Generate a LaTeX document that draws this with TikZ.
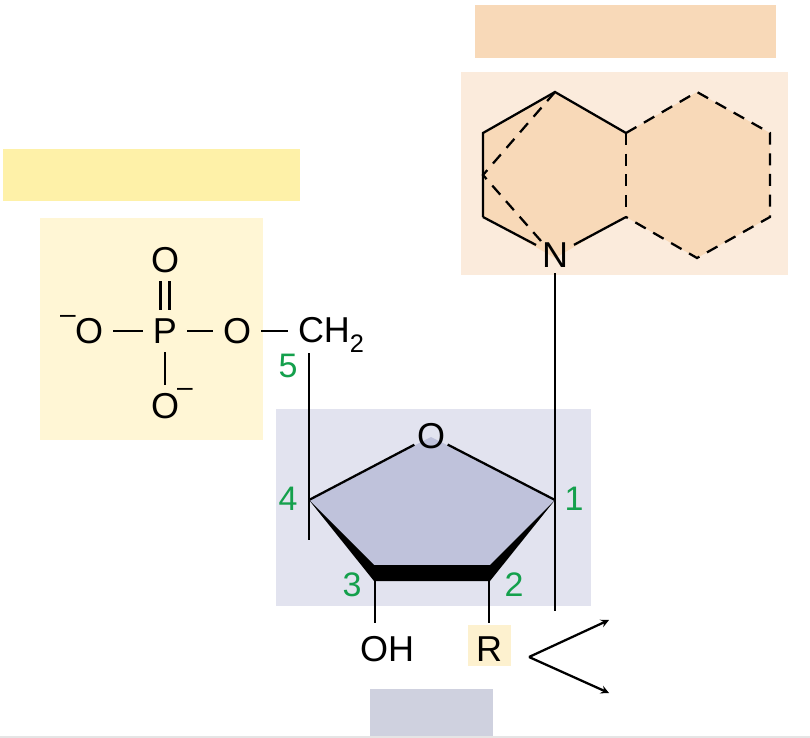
\documentclass[tikz,border=0pt]{standalone}
\usepackage{fontspec}
\setmainfont{Liberation Sans}
\usepackage{xcolor}
\usetikzlibrary{arrows,positioning,calc}
\definecolor{baseDark}{RGB}{248,217,184}
\definecolor{baseLight}{RGB}{251,235,220}
\definecolor{phosDark}{RGB}{254,241,168}
\definecolor{phosLight}{RGB}{255,246,213}
\definecolor{sugarLight}{RGB}{226,227,239}
\definecolor{sugarRing}{RGB}{191,194,219}
\definecolor{sugarTag}{RGB}{207,209,223}
\definecolor{rTag}{RGB}{253,241,207}
\definecolor{numGreen}{RGB}{20,160,76}
\definecolor{edgeGray}{RGB}{229,229,229}
\tikzset{
  panel/.style={rectangle,draw=none,inner sep=0pt,outer sep=0pt},
  atom/.style={inner sep=4.5pt,outer sep=0pt,font=\fontsize{27}{27}\selectfont,text=black},
  phos/.style={atom,inner xsep=7.5pt,inner ysep=6.5pt},
  charge/.style={inner sep=0pt,font=\fontsize{21}{21}\selectfont,text=black},
  num/.style={inner sep=0pt,font=\fontsize{25.5}{26}\selectfont,text=numGreen},
  bond/.style={line width=1.7pt},
  dbond/.style={line width=1.7pt,dash pattern=on 9pt off 6.5pt},
}

\begin{document}
\begin{tikzpicture}[x=0.75pt,y=-0.75pt]
\useasboundingbox (0,0) rectangle (810,738);
\fill[edgeGray] (0,736) rectangle (810,738);
\foreach \name/\cx/\cy/\w/\h/\col in {
  baseTag/625.5/31.5/301/53/baseDark,
  basePanel/624.5/173.5/327/203/baseLight,
  phosTag/151.5/175/297/52/phosDark,
  phosPanel/151.5/329/223/222/phosLight,
  sugarPanel/433.5/507.5/315/197/sugarLight,
  sugarBox/431.5/712.5/123/47/sugarTag,
  rBox/489.5/645.5/43/41/rTag}
{
  \node[panel,fill=\col,minimum width=\w*0.75pt,minimum height=\h*0.75pt] (\name) at (\cx,\cy) {};
}
% ring corners
\foreach \name/\x/\y in {
  a1/555/92,a2/626/133,a3/626/217,a4/483/217,a5/483/133,a6/483/175,a7/541/241,
  b1/697/92,b2/770/133,b3/770/217,b4/697/258,
  c1/555/500,c2/489/573,c3/375/573,c4/309/500,cO/431/437,
  t1/490/565,t2/374/565,t3/374/581,t4/490/581,
  c1end/555/611,c2end/489/623,c3end/375/623,c4end/309/540,c5top/309/353,
  fork/529/657,armA/609/620,armB/609/693}
{
  \coordinate (\name) at (\x,\y);
}
\fill[baseDark] (a1) -- (a2) -- (a3) -- (555,258) -- (a4) -- (a5) -- cycle;
\fill[baseDark] (a2) -- (b1) -- (b2) -- (b3) -- (b4) -- (a3) -- cycle;
\fill[sugarRing] (cO) -- (c1) -- (c2) -- (c3) -- (c4) -- cycle;
\fill[black] (c4) -- (t2) -- (t1) -- (c1) -- (t4) -- (t3) -- cycle;
\node[atom] (N) at (555,255) {N};
\node[atom,inner sep=2pt] (Oring) at (431,436) {O};
\node[phos] (Otop) at (165,260) {O};
\node[phos] (P) at (165,331) {P};
\node[phos] (Oleft) at (89,331) {O};
\node[phos] (Oright) at (237,331) {O};
\node[phos] (Obot) at (165,406) {O};
\node[phos,anchor=west] (CH) at (288,335) {CH\raisebox{-0.3em}{\fontsize{19}{19}\selectfont 2}};
\node[atom] (OH) at (387,649) {OH};
\node[atom] (R) at (489,649) {R};
\node[charge] (minusL) at (68,319) {–};
\node[charge] (minusB) at (185,392) {–};
\foreach \name/\x/\y/\lbl in {
  n1/574/499/1,n2/514/585/2,n3/352/585/3,n4/288/499/4,n5/288/366/5}
{
  \node[num] (\name) at (\x,\y) {\lbl};
}
% solid bonds
\draw[bond,line join=miter] (a4) -- (a5) -- (a1) -- (a2);
\draw[bond] (N) -- (a4);
\draw[bond] (N) -- (a3);
\draw[bond] (N) -- (c1end);
\draw[bond] (c5top) -- (c4end);
\draw[bond] (Oring) -- (c4);
\draw[bond] (Oring) -- (c1);
\draw[bond] (c3) -- (c3end);
\draw[bond] (c2) -- (c2end);
\draw[bond] (Oleft) -- (P);
\draw[bond] (P) -- (Oright);
\draw[bond] (Oright) -- (Oright -| CH.west);
\draw[bond] (P) -- (Obot);
\draw[bond] ([xshift=-3.4pt]Otop.south) -- ([xshift=-3.4pt]P.north);
\draw[bond] ([xshift=3.4pt]Otop.south) -- ([xshift=3.4pt]P.north);
% dashed bonds
\draw[dbond] (a2) -- (a3);
\draw[dbond] (a2) -- (b1) -- (b2) -- (b3) -- (b4) -- (a3);
\draw[dbond] (a1) -- (a6) -- (a7);
% arrows
\draw[bond,-stealth] (fork) -- (armA);
\draw[bond,-stealth] (fork) -- (armB);
\end{tikzpicture}
\end{document}
